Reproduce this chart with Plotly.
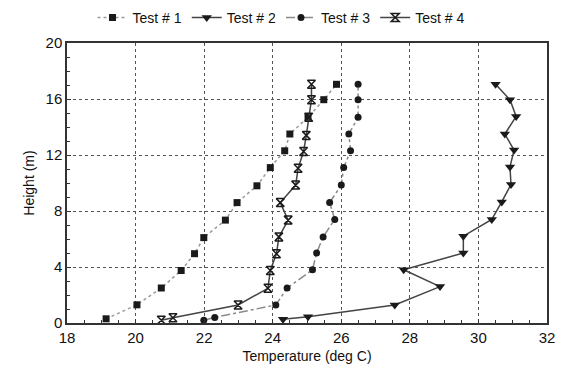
import plotly.graph_objects as go

test1_t = [19.14, 20.04, 20.75, 21.33, 21.72, 21.99, 22.62, 22.96, 23.54, 23.93, 24.35, 24.5, 25.03, 25.49, 25.86]
test1_h = [0.3, 1.3, 2.5, 3.75, 4.95, 6.1, 7.35, 8.6, 9.8, 11.1, 12.3, 13.5, 14.7, 15.95, 17.05]

test2_t = [24.3, 25.03, 27.56, 28.88, 27.82, 29.56, 29.56, 30.39, 30.68, 30.95, 30.92, 31.04, 30.77, 31.1, 30.92, 30.5]
test2_h = [0.26, 0.45, 1.29, 2.6, 3.8, 5.0, 6.2, 7.4, 8.65, 9.9, 11.15, 12.35, 13.5, 14.75, 15.95, 17.05]

test3_t = [21.99, 22.31, 24.09, 24.42, 25.16, 25.28, 25.47, 25.81, 25.66, 26.0, 26.07, 26.27, 26.22, 26.49, 26.49, 26.49]
test3_h = [0.2, 0.4, 1.29, 2.5, 3.8, 5.0, 6.15, 7.4, 8.6, 9.85, 11.1, 12.3, 13.5, 14.7, 15.95, 17.05]

test4_t = [20.75, 21.09, 22.99, 23.86, 23.93, 24.11, 24.18, 24.45, 24.22, 24.67, 24.74, 24.9, 24.98, 25.05, 25.13, 25.13]
test4_h = [0.2, 0.38, 1.29, 2.48, 3.75, 4.95, 6.15, 7.35, 8.6, 9.85, 11.05, 12.25, 13.4, 14.7, 15.95, 17.05]

names = ["Test # 1", "Test # 2", "Test # 3", "Test # 4"]

FONT = "Liberation Sans, Arial, sans-serif"

fig = go.Figure()
fig.add_trace(go.Scatter(x=test1_t, y=test1_h, name=names[0], mode="lines+markers",
                         line=dict(color="#9a9a9a", width=1.5, dash="dot"),
                         marker=dict(symbol="square", size=7, color="#1a1a1a")))
fig.add_trace(go.Scatter(x=test2_t, y=test2_h, name=names[1], mode="lines+markers",
                         line=dict(color="#444444", width=1.5),
                         marker=dict(symbol="triangle-down", size=9, color="#1a1a1a")))
fig.add_trace(go.Scatter(x=test3_t, y=test3_h, name=names[2], mode="lines+markers",
                         line=dict(color="#8a8a8a", width=1.5, dash="dashdot"),
                         marker=dict(symbol="circle", size=7, color="#1a1a1a")))
fig.add_trace(go.Scatter(x=test4_t, y=test4_h, name=names[3], mode="lines+markers",
                         line=dict(color="#444444", width=1.5),
                         marker=dict(symbol="hourglass-open", size=8, color="#1a1a1a",
                                     line=dict(width=1.5, color="#1a1a1a"))))

axis_common = dict(
    showline=True, linecolor="#333333", linewidth=1.5, mirror=True,
    showgrid=True, gridcolor="#555555", gridwidth=1, griddash="dot",
    ticks="inside", ticklen=4, tickcolor="#333333",
    tickfont=dict(family=FONT, size=15, color="#111111"),
    zeroline=False,
)

fig.update_xaxes(range=[18, 32], tick0=18, dtick=2,
                 minor=dict(dtick=0.5, ticks="inside", ticklen=3, tickcolor="#333333", showgrid=False),
                 title=dict(text="Temperature (deg C)", font=dict(family=FONT, size=14, color="#111111"), standoff=6),
                 **axis_common)
fig.update_yaxes(range=[0, 20], tick0=0, dtick=4,
                 minor=dict(dtick=1, ticks="inside", ticklen=3, tickcolor="#333333", showgrid=False),
                 title=dict(text="Height (m)", font=dict(family=FONT, size=14, color="#111111"), standoff=8),
                 **axis_common)

fig.update_layout(
    width=562, height=374,
    margin=dict(l=67, r=15, t=43, b=51, autoexpand=False),
    paper_bgcolor="white", plot_bgcolor="white",
    font=dict(family=FONT, size=14, color="#111111"),
    legend=dict(orientation="h", x=0.5, xanchor="center", xref="container",
                y=0.995, yanchor="top", yref="container",
                font=dict(family=FONT, size=14, color="#111111"),
                itemwidth=30, tracegroupgap=0),
    showlegend=True,
)

fig.write_html("out.html")
